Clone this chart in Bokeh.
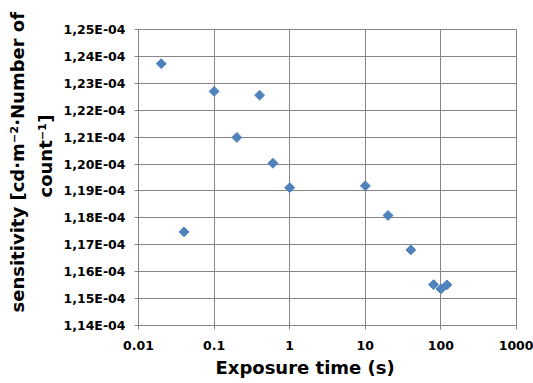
from bokeh.plotting import figure
from bokeh.models import ColumnDataSource, FixedTicker, Title
from bokeh.embed import file_html
from bokeh.resources import INLINE
import math

# Data
exposure_s = [0.02, 0.04, 0.1, 0.2, 0.4, 0.6, 1, 10, 20, 40, 80, 100, 120]
sensitivity = [1.2373e-4, 1.1748e-4, 1.2270e-4, 1.2099e-4, 1.2256e-4, 1.2003e-4,
               1.1912e-4, 1.1919e-4, 1.1809e-4, 1.1681e-4, 1.1552e-4, 1.1536e-4, 1.1551e-4]

x_ticks = [0.01, 0.1, 1, 10, 100, 1000]
x_tick_labels = ["0.01", "0.1", "1", "10", "100", "1000"]
y_ticks = [1.14e-4, 1.15e-4, 1.16e-4, 1.17e-4, 1.18e-4, 1.19e-4,
           1.20e-4, 1.21e-4, 1.22e-4, 1.23e-4, 1.24e-4, 1.25e-4]
y_tick_labels = ["1,14E-04", "1,15E-04", "1,16E-04", "1,17E-04", "1,18E-04", "1,19E-04",
                 "1,20E-04", "1,21E-04", "1,22E-04", "1,23E-04", "1,24E-04", "1,25E-04"]

x_title = "Exposure time (s)"
y_title_1 = "sensitivity  [cd\u00b7m\u207b\u00b2\u00b7Number of"
y_title_2 = "count\u207b\u00b9]"

FONT = "DejaVu Sans"
GRID = "#868686"
BLUE = "#4F81BD"

p = figure(width=533, height=383, x_axis_type="log",
           x_range=(0.01, 1000), y_range=(1.14e-4, 1.25e-4),
           output_backend="svg", toolbar_location=None,
           min_border_left=138, min_border_right=17, min_border_top=29, min_border_bottom=58)
p.background_fill_color = "white"
p.border_fill_color = "white"
p.outline_line_color = GRID
p.outline_line_width = 1

src = ColumnDataSource(dict(x=exposure_s, y=sensitivity))
p.scatter("x", "y", source=src, marker="square", angle=math.pi / 4, size=7,
          fill_color=BLUE, line_color=BLUE, line_width=1)

p.xaxis.ticker = FixedTicker(ticks=x_ticks, minor_ticks=[])
p.xaxis.major_label_overrides = {t: l for t, l in zip(x_ticks, x_tick_labels)}
p.yaxis.ticker = FixedTicker(ticks=y_ticks, minor_ticks=[])
p.yaxis.major_label_overrides = {t: l for t, l in zip(y_ticks, y_tick_labels)}

for ax in (p.xaxis, p.yaxis):
    ax.axis_line_color = GRID
    ax.major_tick_line_color = GRID
    ax.major_tick_in = 0
    ax.major_tick_out = 4
    ax.minor_tick_line_color = None
    ax.major_label_text_font = FONT
    ax.major_label_text_font_style = "bold"
    ax.major_label_text_font_size = "12.5px"
    ax.major_label_text_color = "black"
p.xaxis.major_label_standoff = 11
p.yaxis.major_label_standoff = 9

p.xgrid.grid_line_color = GRID
p.ygrid.grid_line_color = GRID
p.xgrid.ticker = FixedTicker(ticks=x_ticks)
p.ygrid.ticker = FixedTicker(ticks=y_ticks)

tx = Title(text=x_title, align="left", offset=77, text_font=FONT, text_font_style="bold",
           text_font_size="18px", text_color="black", standoff=4)
p.add_layout(tx, "below")

t2 = Title(text=y_title_2, align="left", offset=128, text_font=FONT, text_font_style="bold",
           text_font_size="18px", text_color="black", standoff=10)
t1 = Title(text=y_title_1, align="left", offset=13, text_font=FONT, text_font_style="bold",
           text_font_size="18px", text_color="black", standoff=0)
p.add_layout(t2, "left")
p.add_layout(t1, "left")

open("out.html", "w").write(file_html(p, INLINE))
